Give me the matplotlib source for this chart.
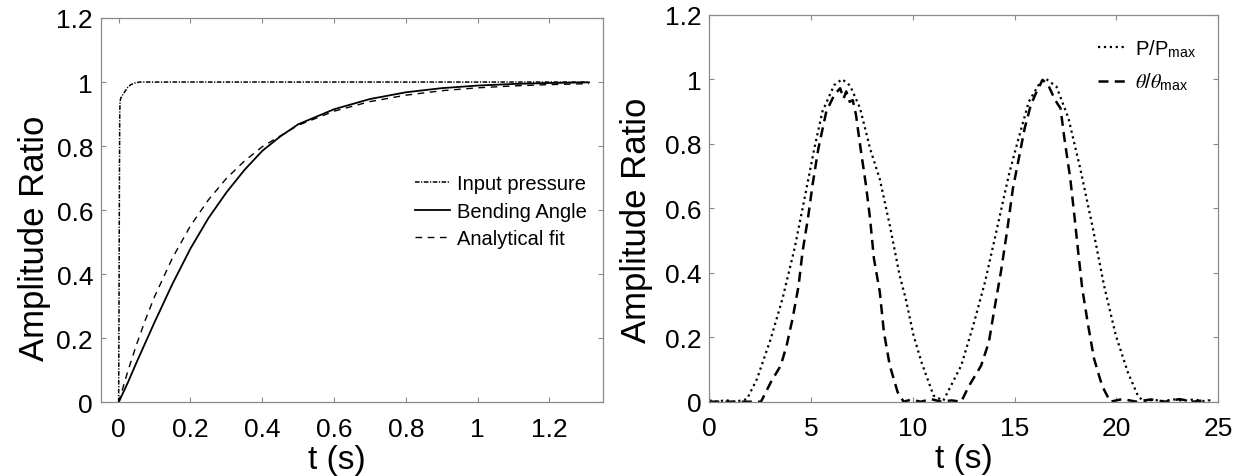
import matplotlib
matplotlib.use("Agg")
import matplotlib.pyplot as plt

plt.rcParams['font.family'] = ['Liberation Sans', 'DejaVu Sans']
plt.rcParams['mathtext.fontset'] = 'stix'

# ---------------- Left panel data (step response) ----------------
t_input = [0.0, 0.001, 0.002, 0.003, 0.004, 0.006, 0.010, 0.016, 0.025, 0.034,
           0.045, 0.058, 0.08, 0.12, 0.3, 0.6, 0.9, 1.2, 1.31]
input_pressure = [0.0, 0.30, 0.65, 0.90, 0.94, 0.950, 0.958, 0.968, 0.983, 0.992,
                  0.997, 1.0, 1.0, 1.0, 1.0, 1.0, 1.0, 1.0, 1.0]

t_bend = [0.0, 0.025, 0.05, 0.1, 0.15, 0.2, 0.25, 0.3, 0.35, 0.4, 0.45, 0.5,
          0.6, 0.7, 0.8, 0.9, 1.0, 1.1, 1.2, 1.31]
bending_angle = [0.0, 0.06, 0.125, 0.25, 0.37, 0.48, 0.575, 0.655, 0.725, 0.785,
                 0.83, 0.868, 0.915, 0.947, 0.968, 0.981, 0.989, 0.994, 0.997, 0.999]

t_fit = [0.0, 0.025, 0.05, 0.075, 0.1, 0.15, 0.2, 0.25, 0.3, 0.35, 0.4, 0.5,
         0.6, 0.7, 0.8, 0.9, 1.0, 1.1, 1.2, 1.31]
analytical_fit = [0.0, 0.095, 0.181, 0.259, 0.330, 0.451, 0.551, 0.632, 0.699,
                  0.753, 0.798, 0.865, 0.909, 0.939, 0.959, 0.973, 0.982, 0.988,
                  0.992, 0.995]

# ---------------- Right panel data (cyclic actuation) ----------------
t_p = [0.0, 0.4, 0.8, 1.2, 1.6, 1.85, 2.34, 3.02, 3.6, 4.19, 4.68, 5.16, 5.56,
       6.14, 6.53, 6.92, 7.41, 7.9, 8.38, 8.87, 9.36, 9.65, 10.04, 10.43, 11.02,
       11.5, 11.8, 12.38, 12.97, 13.55, 14.14, 14.72, 15.11, 15.7, 16.28, 16.57,
       17.06, 17.65, 18.23, 18.82, 19.4, 19.98, 20.57, 21.06, 21.35, 21.8, 22.3,
       22.8, 23.3, 23.8, 24.3, 24.8]
p_ratio = [0.004, 0.0, 0.005, 0.0, 0.004, 0.008, 0.07, 0.195, 0.32, 0.475, 0.63,
           0.785, 0.90, 0.982, 1.0, 0.98, 0.91, 0.785, 0.69, 0.547, 0.39, 0.32,
           0.205, 0.122, 0.019, 0.003, 0.04, 0.112, 0.236, 0.371, 0.537, 0.703,
           0.796, 0.93, 0.993, 1.0, 0.977, 0.879, 0.723, 0.547, 0.36, 0.205,
           0.091, 0.019, 0.0, 0.006, 0.002, 0.007, 0.003, 0.007, 0.002, 0.006]

t_theta = [0.0, 2.54, 3.02, 3.51, 3.8, 4.09, 4.39, 4.58, 4.87, 5.07, 5.36, 5.75,
           6.14, 6.43, 6.6, 6.73, 6.9, 7.05, 7.21, 7.41, 7.7, 7.9, 8.09, 8.38,
           8.58, 8.87, 9.26, 9.55, 9.9, 10.4, 10.9, 11.4, 11.9, 12.38, 12.77,
           13.36, 13.74, 14.04, 14.33, 14.63, 14.92, 15.21, 15.5, 15.8, 16.09,
           16.38, 16.67, 16.96, 17.1, 17.26, 17.45, 17.74, 17.94, 18.13, 18.33,
           18.62, 18.91, 19.3, 19.7, 20.3, 21.0, 21.7, 22.4, 23.1, 23.8, 24.5]
theta_ratio = [0.0, 0.0, 0.06, 0.112, 0.174, 0.257, 0.36, 0.464, 0.578, 0.671,
               0.785, 0.90, 0.951, 0.972, 0.94, 0.962, 0.93, 0.935, 0.889, 0.796,
               0.671, 0.568, 0.444, 0.34, 0.216, 0.112, 0.029, 0.0, 0.006, 0.0,
               0.008, 0.0, 0.004, 0.0, 0.05, 0.112, 0.185, 0.298, 0.402, 0.527,
               0.661, 0.754, 0.848, 0.92, 0.962, 0.998, 0.98, 0.94, 0.925, 0.91,
               0.817, 0.692, 0.578, 0.464, 0.35, 0.236, 0.133, 0.05, 0.0, 0.008,
               0.0, 0.007, 0.0, 0.008, 0.0, 0.006]

left_xticks = [0, 0.2, 0.4, 0.6, 0.8, 1.0, 1.2]
left_xticklabels = ['0', '0.2', '0.4', '0.6', '0.8', '1', '1.2']
yticks = [0, 0.2, 0.4, 0.6, 0.8, 1.0, 1.2]
yticklabels = ['0', '0.2', '0.4', '0.6', '0.8', '1', '1.2']
right_xticks = [0, 5, 10, 15, 20, 25]

W, H = 1239, 477
fig = plt.figure(figsize=(W / 100, H / 100), dpi=100)
ax1 = fig.add_axes([100.7 / W, 1 - 403.3 / H, 502.6 / W, 384.3 / H])
ax2 = fig.add_axes([709.3 / W, 1 - 402.7 / H, 508.7 / W, 387.0 / H])

grey = '#8a8a8a'
for ax in (ax1, ax2):
    for s in ax.spines.values():
        s.set_color(grey)
        s.set_linewidth(0.9)
    ax.tick_params(direction='in', length=3.3, width=0.8, color=grey,
                   top=True, right=True, labelsize=19, labelcolor='black')
    ax.tick_params(axis='y', pad=5.5)
    ax.tick_params(axis='x', pad=10.5)
    ax.set_ylim(0, 1.2)
    ax.set_yticks(yticks)
    ax.set_yticklabels(yticklabels)

# Left panel
ax1.plot(t_input, input_pressure, color='black', lw=1.1,
         dashes=(3.0, 1.0, 0.8, 1.0), label='Input pressure')
ax1.plot(t_bend, bending_angle, color='black', lw=1.3, ls='-', label='Bending Angle')
ax1.plot(t_fit, analytical_fit, color='black', lw=1.0, dashes=(4.8, 4.0),
         label='Analytical fit')
ax1.set_xlim(-0.05, 1.35)
ax1.set_xticks(left_xticks)
ax1.set_xticklabels(left_xticklabels)
ax1.set_xlabel('t (s)', fontsize=24)
ax1.set_ylabel('Amplitude Ratio', fontsize=25)
ax1.xaxis.set_label_coords(0.47, -0.108)
ax1.yaxis.set_label_coords(-0.099, 0.43)
ax1.legend(loc='upper left', bbox_to_anchor=(415 / W, 1 - 175 / H),
           bbox_transform=fig.transFigure, frameon=False, fontsize=14.5,
           handlelength=1.75, handletextpad=0.35, labelspacing=0.43,
           borderpad=0, borderaxespad=0)

# Right panel
ax2.plot(t_p, p_ratio, color='black', lw=1.6, ls=':', label=r'P/P$_{\mathregular{max}}$')
ax2.plot(t_theta, theta_ratio, color='black', lw=1.8, dashes=(4, 2.5),
         label=r'$\theta$/$\theta_{\mathregular{max}}$')
ax2.set_xlim(0, 25)
ax2.set_xticks(right_xticks)
ax2.set_xlabel('t (s)', fontsize=24)
ax2.set_ylabel('Amplitude Ratio', fontsize=25)
ax2.xaxis.set_label_coords(0.5, -0.108)
ax2.yaxis.set_label_coords(-0.111, 0.472)
ax2.legend(loc='upper left', bbox_to_anchor=(1098 / W, 1 - 38 / H),
           bbox_transform=fig.transFigure, frameon=False, fontsize=14.5,
           handlelength=1.45, handletextpad=0.4, labelspacing=0.6,
           borderpad=0, borderaxespad=0)

fig.savefig('out.png', dpi=100)
